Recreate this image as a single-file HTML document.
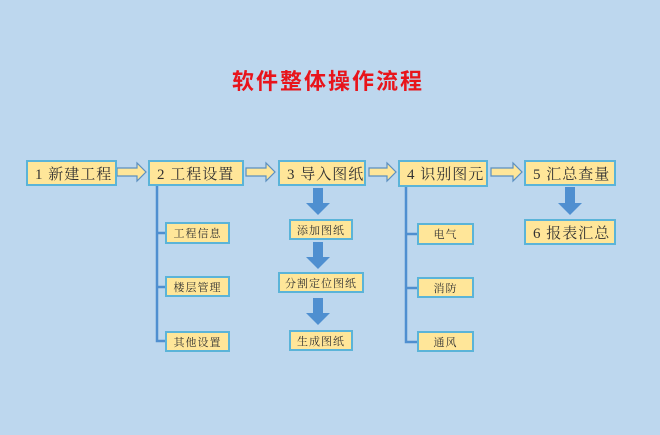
<!DOCTYPE html>
<html><head><meta charset="utf-8"><style>
body{margin:0;width:660px;height:435px;background:#bdd7ee;position:relative;overflow:hidden;font-family:"Liberation Serif","Noto Serif CJK SC",serif;}
.b{position:absolute;background:#ffe699;border:2px solid #5bb4d8;box-sizing:border-box;color:#333;display:flex;align-items:center;white-space:nowrap;}
.m{font-size:15px;padding-left:7px;letter-spacing:1px;}
.s{font-size:11px;justify-content:center;letter-spacing:1px;}
.t{position:absolute;left:0;width:656px;top:64px;text-align:center;color:#e8141b;font-size:22px;font-weight:bold;letter-spacing:2px;font-family:"Liberation Sans","Noto Sans CJK SC",sans-serif;}
svg{position:absolute;left:0;top:0}
</style></head><body>
<svg width="660" height="435">
<g fill="#ffe699" stroke="#5b8fc0" stroke-width="1.2">
<path d="M117,168h20v-5l9,9l-9,9v-5h-20z"/>
<path d="M246,168h20v-5l9,9l-9,9v-5h-20z"/>
<path d="M369,168h18v-5l9,9l-9,9v-5h-18z"/>
<path d="M491,168h22v-5l9,9l-9,9v-5h-22z"/>
</g>
<g fill="#4f8fd0">
<path d="M313,188h10v15h7l-12,12l-12,-12h7z"/>
<path d="M313,242h10v15h7l-12,12l-12,-12h7z"/>
<path d="M313,298h10v15h7l-12,12l-12,-12h7z"/>
<path d="M565,187h10v16h7l-12,12l-12,-12h7z"/>
</g>
<g stroke="#4f8fd0" stroke-width="2.5" fill="none">
<path d="M157,186V341h8M157,233h8M157,287h8"/>
<path d="M406,187V342h11M406,234h11M406,288h11"/>
</g>
</svg>
<div class="t">软件整体操作流程</div>
<div class="b m" style="left:26px;top:160px;width:91px;height:26px">1 新建工程</div>
<div class="b m" style="left:148px;top:160px;width:96px;height:26px">2 工程设置</div>
<div class="b m" style="left:278px;top:160px;width:88px;height:26px">3 导入图纸</div>
<div class="b m" style="left:398px;top:160px;width:90px;height:27px">4 识别图元</div>
<div class="b m" style="left:524px;top:160px;width:92px;height:26px">5 汇总查量</div>
<div class="b m" style="left:524px;top:219px;width:92px;height:26px">6 报表汇总</div>
<div class="b s" style="left:165px;top:222px;width:65px;height:22px">工程信息</div>
<div class="b s" style="left:165px;top:276px;width:65px;height:21px">楼层管理</div>
<div class="b s" style="left:165px;top:331px;width:65px;height:21px">其他设置</div>
<div class="b s" style="left:289px;top:219px;width:64px;height:21px">添加图纸</div>
<div class="b s" style="left:278px;top:272px;width:86px;height:21px">分割定位图纸</div>
<div class="b s" style="left:289px;top:330px;width:64px;height:21px">生成图纸</div>
<div class="b s" style="left:417px;top:223px;width:57px;height:22px">电气</div>
<div class="b s" style="left:417px;top:277px;width:57px;height:21px">消防</div>
<div class="b s" style="left:417px;top:331px;width:57px;height:21px">通风</div>
</body></html>
